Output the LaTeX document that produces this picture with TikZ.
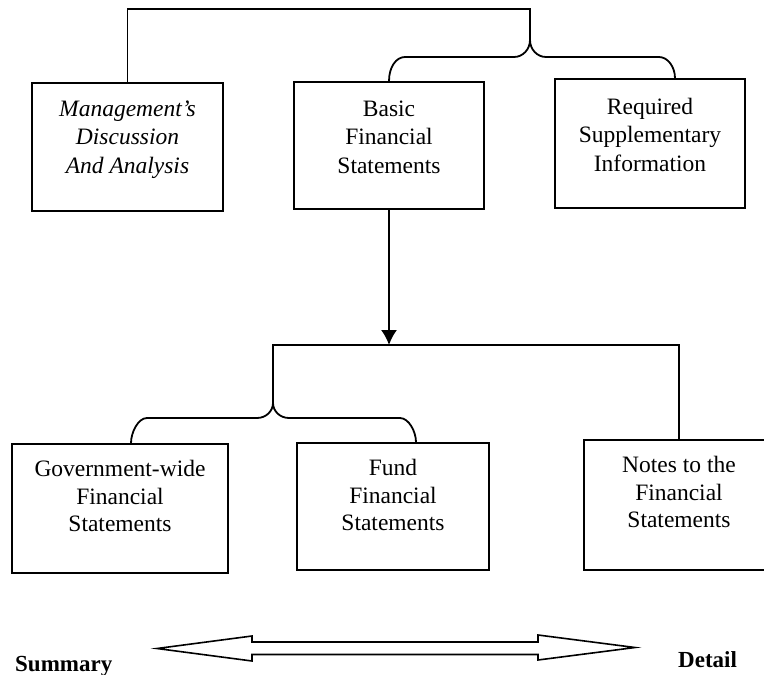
\documentclass[tikz,border=0pt]{standalone}
\usepackage{fontspec}
\setmainfont{Liberation Serif}
\usetikzlibrary{arrows.meta}
\begin{document}
\begin{tikzpicture}[x=1pt,y=-1pt,
  box/.style={draw, line width=1.8pt, inner sep=0pt},
  txt/.style={align=center, font=\fontsize{23.5}{27.5}\selectfont, anchor=north, inner sep=0pt},
  toptxt/.style={txt, font=\fontsize{23.5}{28.5}\selectfont},
  conn/.style={line width=1.8pt},
  lbl/.style={font=\fontsize{23}{26}\selectfont\bfseries, inner sep=0pt, anchor=base west}]
\useasboundingbox (0,0) rectangle (764,675);
% top row boxes
\node[box, minimum width=191, minimum height=128] (mda) at (127.5,147) {};
\node[box, minimum width=190, minimum height=127] (basic) at (389,145.5) {};
\node[box, minimum width=190, minimum height=129] (req) at (650,143.5) {};
\node[toptxt] (mdat) at ([yshift=-13.8pt]mda.north) {\strut\itshape Management's\\\itshape Discussion\\\itshape And Analysis};
\node[toptxt] (basict) at ([yshift=-14.8pt]basic.north) {\strut Basic\\Financial\\Statements};
\node[toptxt] (reqt) at ([yshift=-15.8pt]req.north) {\strut Required\\Supplementary\\Information};
% bottom row boxes
\node[box, minimum width=216, minimum height=129] (gov) at (120,508.5) {};
\node[box, minimum width=192, minimum height=127] (fund) at (393,506.5) {};
\node[box, minimum width=190, minimum height=130] (notes) at (679,505) {};
\node[txt] (govt) at ([yshift=-14pt]gov.north) {\strut Government-wide\\Financial\\Statements};
\node[txt] (fundt) at ([yshift=-14pt]fund.north) {\strut Fund\\Financial\\Statements};
\node[txt] (notest) at ([yshift=-14pt]notes.north) {\strut Notes to the\\Financial\\Statements};
% top bracket
\coordinate (tc) at (530,9);
\coordinate (bp) at (530,40);
\coordinate (reqa) at ([xshift=25pt]req.north);
\draw[conn] (mda.north) |- (tc) -- (bp);
\draw[conn] (bp) .. controls (530,49.4) and (522.8,57) .. (514,57) -- (405,57)
  .. controls (396.2,57) and (389,66.9) .. (basic.north);
\draw[conn] (bp) .. controls (530,49.4) and (537.2,57) .. (546,57) -- (659,57)
  .. controls (667.8,57) and (675,66.9) .. (reqa);
% arrow to middle bracket
\coordinate (ml) at (273,345);
\coordinate (mc) at (389,345);
\coordinate (mbp) at (273,403);
\coordinate (gova) at ([xshift=11pt]gov.north);
\coordinate (funda) at ([xshift=23pt]fund.north);
\draw[conn, -{Latex[length=15pt,width=16pt]}] (basic.south) -- (mc);
\draw[conn] (mbp) -- (ml) -| (notes.north);
\draw[conn] (mbp) .. controls (273,411.3) and (265.8,418) .. (257,418) -- (147,418)
  .. controls (138.2,418) and (131,432.2) .. (gova);
\draw[conn] (mbp) .. controls (273,411.3) and (280.2,418) .. (289,418) -- (400,418)
  .. controls (408.8,418) and (416,431.7) .. (funda);
% summary / detail arrow
\draw[line width=1.6pt, line join=miter]
  (157,648.5) -- (252,636) -- (252,642) -- (538,642) -- (538,635) -- (635,647.5)
  -- (538,660) -- (538,654.5) -- (252,654.5) -- (252,661) -- cycle;
\node[lbl] (sum) at (15,671) {Summary};
\node[lbl] (det) at (678,667) {Detail};
\end{tikzpicture}
\end{document}
